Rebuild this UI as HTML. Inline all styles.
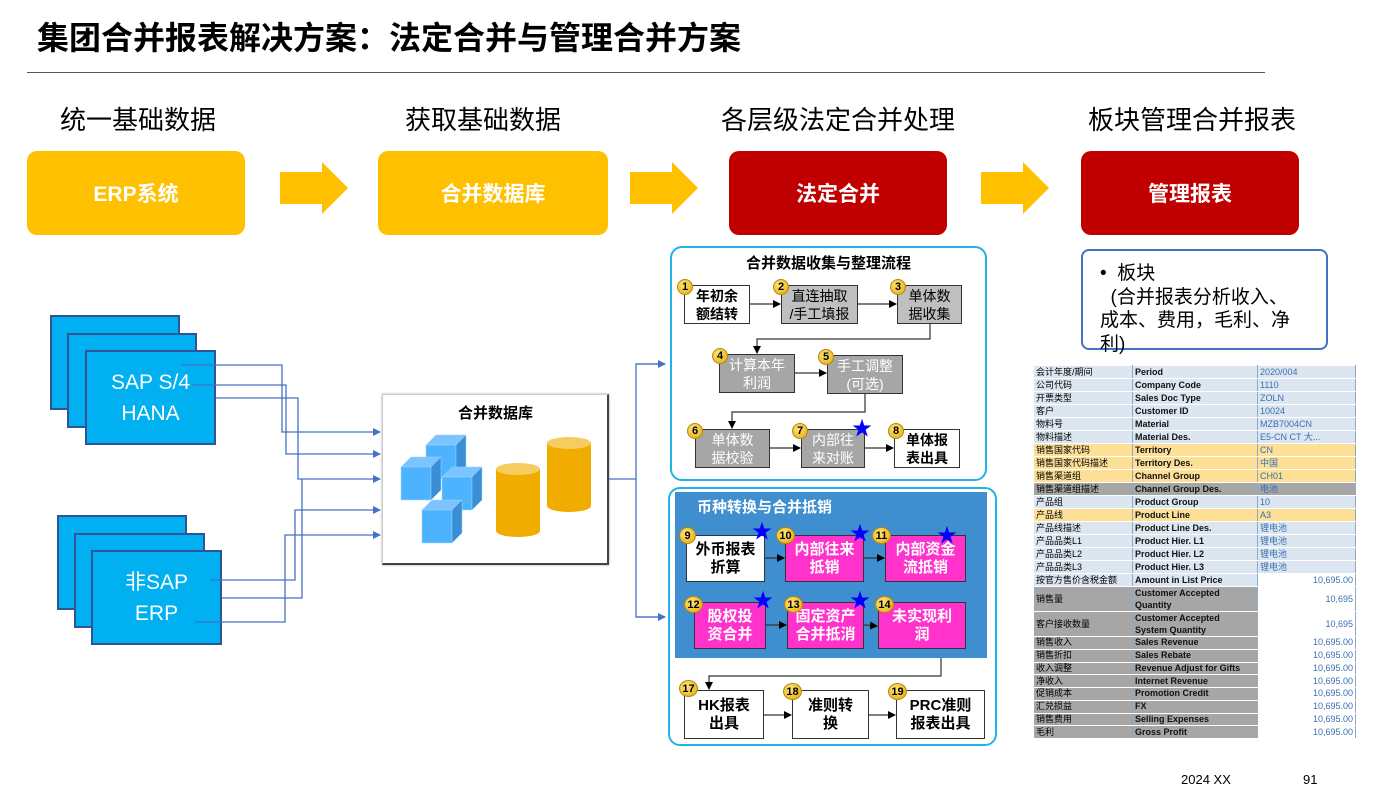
<!DOCTYPE html>
<html><head><meta charset="utf-8"><style>
*{margin:0;padding:0;box-sizing:border-box}
body{width:1398px;height:793px;background:#fff;position:relative;overflow:hidden;font-family:"Liberation Sans","Noto Sans CJK SC",sans-serif}
.a{position:absolute}
.h{font-size:26px;color:#000;text-align:center;width:300px}
.big{border-radius:10px;color:#fff;font-weight:bold;font-size:21px;display:flex;align-items:center;justify-content:center}
.st{background:#00B0F0;border:2.5px solid #2F5597;color:#fff;font-size:21px;display:flex;align-items:center;justify-content:center;text-align:center;line-height:31px}
.b{border:1.5px solid #333;display:flex;align-items:center;justify-content:center;text-align:center;font-size:14px;line-height:18px;color:#000}
.w{background:#fff;font-weight:bold}
.g1{background:#BFBFBF}
.g2{background:#A6A6A6;color:#fff}
.m{background:#FF33CC;color:#fff;font-weight:bold;font-size:15px}
.bd{position:absolute;width:16px;height:16px;border-radius:50%;background:radial-gradient(circle at 40% 35%,#FFE680,#E0A800);border:1px solid #B8860B;font-size:11px;font-weight:bold;display:flex;align-items:center;justify-content:center;color:#000}
.star{position:absolute;color:#0000FF;font-size:20px;line-height:20px}
table{border-collapse:collapse;font-size:9px}
td{border:1px solid #fff;border-right:1px solid #8EA9C1;padding:0 2px;height:13px;line-height:11px;white-space:nowrap;overflow:hidden}
td.n{font-weight:bold;color:#111}
td.v{color:#3A6FB0}
tr.s td{height:12.75px}
tr.d td{height:25px}
</style></head><body>
<div class="a" style="left:37px;top:13px;font-size:32px;font-weight:bold">集团合并报表解决方案：法定合并与管理合并方案</div>
<div class="a" style="left:27px;top:72px;width:1238px;height:1px;background:#555"></div>

<div class="a h" style="left:-12px;top:100px">统一基础数据</div>
<div class="a h" style="left:333px;top:100px">获取基础数据</div>
<div class="a h" style="left:688px;top:100px">各层级法定合并处理</div>
<div class="a h" style="left:1042px;top:100px">板块管理合并报表</div>

<div class="a big" style="left:27px;top:151px;width:218px;height:84px;background:#FFC000">ERP系统</div>
<div class="a big" style="left:378px;top:151px;width:230px;height:84px;background:#FFC000">合并数据库</div>
<div class="a big" style="left:729px;top:151px;width:218px;height:84px;background:#C00000">法定合并</div>
<div class="a big" style="left:1081px;top:151px;width:218px;height:84px;background:#C00000">管理报表</div>

<svg class="a" style="left:0;top:0" width="1398" height="793">
<g fill="#FFC000">
<polygon points="280,172 322,172 322,162 348,188 322,214 322,204 280,204"/>
<polygon points="630,172 672,172 672,162 698,188 672,214 672,204 630,204"/>
<polygon points="981,172 1023,172 1023,162 1049,188 1023,214 1023,204 981,204"/>
</g>
</svg>

<div class="a st" style="left:50px;top:315px;width:130px;height:95px"></div>
<div class="a st" style="left:67px;top:333px;width:130px;height:95px"></div>
<div class="a st" style="left:85px;top:350px;width:131px;height:95px">SAP S/4<br>HANA</div>
<div class="a st" style="left:57px;top:515px;width:130px;height:95px"></div>
<div class="a st" style="left:74px;top:533px;width:131px;height:95px"></div>
<div class="a st" style="left:91px;top:550px;width:131px;height:95px">非SAP<br>ERP</div>

<div class="a" style="left:382px;top:394px;width:227px;height:171px;background:#fff;border:1px solid #ccc;border-right:2px solid #444;border-bottom:2px solid #444;box-shadow:0 0 2px #999"></div>
<div class="a" style="left:382px;top:402px;width:227px;text-align:center;font-size:15px;font-weight:bold">合并数据库</div>
<svg class="a" style="left:0;top:0" width="1398" height="793">
<defs><marker id="ar" markerWidth="8" markerHeight="8" refX="7" refY="4" orient="auto" markerUnits="userSpaceOnUse"><path d="M0,0 L8,4 L0,8z" fill="#4472C4"/></marker>
<marker id="ak" markerWidth="8" markerHeight="8" refX="7" refY="4" orient="auto" markerUnits="userSpaceOnUse"><path d="M0,0 L8,4 L0,8z" fill="#000"/></marker></defs>
<g fill="none" stroke="#4472C4" stroke-width="1.3">
<polyline points="182,365 282,365 282,432 380,432" marker-end="url(#ar)"/>
<polyline points="192,385 286,385 286,454 380,454" marker-end="url(#ar)"/>
<polyline points="216,398 298,398 298,479 380,479" marker-end="url(#ar)"/>
<polyline points="210,580 295,580 295,510 380,510" marker-end="url(#ar)"/>
<polyline points="222,598 302,598 302,479"/>
<polyline points="195,622 285,622 285,535 380,535" marker-end="url(#ar)"/>
<polyline points="609,479 636,479"/>
<polyline points="665,364 636,364 636,617 665,617"/>
<line x1="636" y1="364" x2="665" y2="364" marker-end="url(#ar)"/>
<line x1="636" y1="617" x2="665" y2="617" marker-end="url(#ar)"/>
</g>
<g stroke="#9CD3FF" stroke-width="0.5">
<g transform="translate(426,445)"><polygon points="0,0 30,0 40,-10 10,-10" fill="#7CC4FF"/><rect x="0" y="0" width="30" height="33" fill="#4DB3FF"/><polygon points="30,0 40,-10 40,23 30,33" fill="#3A8FD4"/></g>
<g transform="translate(401,467)"><polygon points="0,0 30,0 40,-10 10,-10" fill="#7CC4FF"/><rect x="0" y="0" width="30" height="33" fill="#4DB3FF"/><polygon points="30,0 40,-10 40,23 30,33" fill="#3A8FD4"/></g>
<g transform="translate(442,477)"><polygon points="0,0 30,0 40,-10 10,-10" fill="#7CC4FF"/><rect x="0" y="0" width="30" height="33" fill="#4DB3FF"/><polygon points="30,0 40,-10 40,23 30,33" fill="#3A8FD4"/></g>
<g transform="translate(422,510)"><polygon points="0,0 30,0 40,-10 10,-10" fill="#7CC4FF"/><rect x="0" y="0" width="30" height="33" fill="#4DB3FF"/><polygon points="30,0 40,-10 40,23 30,33" fill="#3A8FD4"/></g>
</g>
<g>
<rect x="496" y="469" width="44" height="62" fill="#F0AD00"/><ellipse cx="518" cy="531" rx="22" ry="6" fill="#F0AD00"/><ellipse cx="518" cy="469" rx="22" ry="6" fill="#F6CC60"/>
<rect x="547" y="443" width="44" height="63" fill="#F0AD00"/><ellipse cx="569" cy="506" rx="22" ry="6" fill="#F0AD00"/><ellipse cx="569" cy="443" rx="22" ry="6" fill="#F6CC60"/>
</g>
</svg>

<div class="a" style="left:670px;top:246px;width:317px;height:235px;border:2.5px solid #1EB4E8;border-radius:12px"></div>
<div class="a" style="left:670px;top:252px;width:317px;text-align:center;font-size:15px;font-weight:bold">合并数据收集与整理流程</div>
<div class="a b w" style="left:684px;top:285px;width:66px;height:39px">年初余<br>额结转</div>
<div class="a b g1" style="left:781px;top:285px;width:77px;height:39px">直连抽取<br>/手工填报</div>
<div class="a b g1" style="left:897px;top:285px;width:65px;height:39px">单体数<br>据收集</div>
<div class="a b g2" style="left:719px;top:354px;width:76px;height:39px">计算本年<br>利润</div>
<div class="a b g2" style="left:827px;top:355px;width:76px;height:39px">手工调整<br>(可选)</div>
<div class="a b g2" style="left:695px;top:429px;width:75px;height:39px">单体数<br>据校验</div>
<div class="a b g2" style="left:801px;top:429px;width:64px;height:39px">内部往<br>来对账</div>
<div class="a b w" style="left:894px;top:429px;width:66px;height:39px">单体报<br>表出具</div>

<div class="a" style="left:668px;top:487px;width:329px;height:259px;border:2.5px solid #1EB4E8;border-radius:12px"></div>
<div class="a" style="left:675px;top:492px;width:312px;height:166px;background:#3F8ED0"></div>
<div class="a" style="left:697px;top:496px;font-size:15px;font-weight:bold;color:#fff">币种转换与合并抵销</div>
<div class="a b w" style="left:686px;top:535px;width:79px;height:47px;font-size:15px">外币报表<br>折算</div>
<div class="a b m" style="left:785px;top:535px;width:79px;height:47px">内部往来<br>抵销</div>
<div class="a b m" style="left:885px;top:535px;width:81px;height:47px">内部资金<br>流抵销</div>
<div class="a b m" style="left:694px;top:602px;width:72px;height:47px">股权投<br>资合并</div>
<div class="a b m" style="left:787px;top:602px;width:77px;height:47px">固定资产<br>合并抵消</div>
<div class="a b m" style="left:878px;top:602px;width:88px;height:47px">未实现利<br>润</div>
<div class="a b w" style="left:684px;top:690px;width:80px;height:49px;font-size:15px">HK报表<br>出具</div>
<div class="a b w" style="left:792px;top:690px;width:77px;height:49px;font-size:15px">准则转<br>换</div>
<div class="a b w" style="left:896px;top:690px;width:89px;height:49px;font-size:15px">PRC准则<br>报表出具</div>

<svg class="a" style="left:0;top:0" width="1398" height="793">
<g fill="none" stroke="#333" stroke-width="1.2">
<line x1="750" y1="304" x2="780" y2="304" marker-end="url(#ak)"/>
<line x1="858" y1="304" x2="896" y2="304" marker-end="url(#ak)"/>
<polyline points="930,324 930,339 757,339 757,353" marker-end="url(#ak)"/>
<line x1="795" y1="373" x2="826" y2="373" marker-end="url(#ak)"/>
<polyline points="865,394 865,412 732,412 732,428" marker-end="url(#ak)"/>
<line x1="770" y1="448" x2="800" y2="448" marker-end="url(#ak)"/>
<line x1="865" y1="448" x2="893" y2="448" marker-end="url(#ak)"/>
<line x1="765" y1="558" x2="784" y2="558" marker-end="url(#ak)"/>
<line x1="864" y1="558" x2="884" y2="558" marker-end="url(#ak)"/>
<line x1="766" y1="625" x2="786" y2="625" marker-end="url(#ak)"/>
<line x1="864" y1="625" x2="877" y2="626" marker-end="url(#ak)"/>
<polyline points="941,658 941,676 709,676 709,689" marker-end="url(#ak)"/>
<line x1="764" y1="715" x2="791" y2="715" marker-end="url(#ak)"/>
<line x1="869" y1="715" x2="895" y2="715" marker-end="url(#ak)"/>
</g></svg>

<div class="bd" style="left:677px;top:279px">1</div>
<div class="bd" style="left:773px;top:279px">2</div>
<div class="bd" style="left:890px;top:279px">3</div>
<div class="bd" style="left:712px;top:348px">4</div>
<div class="bd" style="left:818px;top:349px">5</div>
<div class="bd" style="left:687px;top:423px">6</div>
<div class="bd" style="left:792px;top:423px">7</div>
<div class="bd" style="left:888px;top:423px">8</div>
<div class="bd" style="left:679px;top:527px;width:17px;height:17px">9</div>
<div class="bd" style="left:776px;top:527px;width:19px;height:17px">10</div>
<div class="bd" style="left:872px;top:527px;width:19px;height:17px">11</div>
<div class="bd" style="left:684px;top:596px;width:19px;height:17px">12</div>
<div class="bd" style="left:784px;top:596px;width:19px;height:17px">13</div>
<div class="bd" style="left:875px;top:596px;width:19px;height:17px">14</div>
<div class="bd" style="left:679px;top:680px;width:19px;height:17px">17</div>
<div class="bd" style="left:783px;top:683px;width:19px;height:17px">18</div>
<div class="bd" style="left:888px;top:683px;width:19px;height:17px">19</div>
<div class="star" style="left:852px;top:419px">★</div>
<div class="star" style="left:752px;top:522px">★</div>
<div class="star" style="left:850px;top:524px">★</div>
<div class="star" style="left:937px;top:526px">★</div>
<div class="star" style="left:753px;top:591px">★</div>
<div class="star" style="left:850px;top:591px">★</div>

<div class="a" style="left:1081px;top:249px;width:247px;height:101px;border:2px solid #4472C4;border-radius:8px"></div>
<div class="a" style="left:1100px;top:262px;font-size:19px;line-height:23.5px;width:230px;white-space:nowrap">•&nbsp; 板块<br>&nbsp; (合并报表分析收入、<br>成本、费用，毛利、净<br>利)</div>

<table class="a" style="left:1033px;top:365px;width:322px;table-layout:fixed">
<colgroup><col style="width:99px"><col style="width:125px"><col style="width:98px"></colgroup>
<tr style="background:#DCE6F1"><td>会计年度/期间</td><td class="n">Period</td><td class="v">2020/004</td></tr>
<tr style="background:#DCE6F1"><td>公司代码</td><td class="n">Company Code</td><td class="v">1110</td></tr>
<tr style="background:#DCE6F1"><td>开票类型</td><td class="n">Sales Doc Type</td><td class="v">ZOLN</td></tr>
<tr style="background:#DCE6F1"><td>客户</td><td class="n">Customer ID</td><td class="v">10024</td></tr>
<tr style="background:#DCE6F1"><td>物料号</td><td class="n">Material</td><td class="v">MZB7004CN</td></tr>
<tr style="background:#DCE6F1"><td>物料描述</td><td class="n">Material Des.</td><td class="v">E5-CN CT 大...</td></tr>
<tr style="background:#FDDF96"><td>销售国家代码</td><td class="n">Territory</td><td class="v">CN</td></tr>
<tr style="background:#FDDF96"><td>销售国家代码描述</td><td class="n">Territory Des.</td><td class="v">中国</td></tr>
<tr style="background:#FDDF96"><td>销售渠道组</td><td class="n">Channel Group</td><td class="v">CH01</td></tr>
<tr style="background:#A6A6A6"><td>销售渠道组描述</td><td class="n">Channel Group Des.</td><td class="v">电池</td></tr>
<tr style="background:#DCE6F1"><td>产品组</td><td class="n">Product Group</td><td class="v">10</td></tr>
<tr style="background:#FDDF96"><td>产品线</td><td class="n">Product Line</td><td class="v">A3</td></tr>
<tr style="background:#DCE6F1"><td>产品线描述</td><td class="n">Product Line Des.</td><td class="v">锂电池</td></tr>
<tr style="background:#DCE6F1"><td>产品品类L1</td><td class="n">Product Hier. L1</td><td class="v">锂电池</td></tr>
<tr style="background:#DCE6F1"><td>产品品类L2</td><td class="n">Product Hier. L2</td><td class="v">锂电池</td></tr>
<tr style="background:#DCE6F1"><td>产品品类L3</td><td class="n">Product Hier. L3</td><td class="v">锂电池</td></tr>
<tr><td style="background:#DCE6F1">按官方售价含税金额</td><td class="n" style="background:#DCE6F1">Amount in List Price</td><td class="v" style="text-align:right">10,695.00</td></tr>
<tr class="d"><td style="background:#A6A6A6">销售量</td><td class="n" style="background:#A6A6A6;white-space:normal;line-height:12px">Customer Accepted Quantity</td><td class="v" style="text-align:right">10,695</td></tr>
<tr class="d"><td style="background:#A6A6A6">客户接收数量</td><td class="n" style="background:#A6A6A6;white-space:normal;line-height:12px">Customer Accepted<br>System Quantity</td><td class="v" style="text-align:right">10,695</td></tr>
<tr class="s"><td style="background:#A6A6A6">销售收入</td><td class="n" style="background:#A6A6A6">Sales Revenue</td><td class="v" style="text-align:right">10,695.00</td></tr>
<tr class="s"><td style="background:#A6A6A6">销售折扣</td><td class="n" style="background:#A6A6A6">Sales Rebate</td><td class="v" style="text-align:right">10,695.00</td></tr>
<tr class="s"><td style="background:#A6A6A6">收入调整</td><td class="n" style="background:#A6A6A6">Revenue Adjust for Gifts</td><td class="v" style="text-align:right">10,695.00</td></tr>
<tr class="s"><td style="background:#A6A6A6">净收入</td><td class="n" style="background:#A6A6A6">Internet Revenue</td><td class="v" style="text-align:right">10,695.00</td></tr>
<tr class="s"><td style="background:#A6A6A6">促销成本</td><td class="n" style="background:#A6A6A6">Promotion Credit</td><td class="v" style="text-align:right">10,695.00</td></tr>
<tr class="s"><td style="background:#A6A6A6">汇兑损益</td><td class="n" style="background:#A6A6A6">FX</td><td class="v" style="text-align:right">10,695.00</td></tr>
<tr class="s"><td style="background:#A6A6A6">销售费用</td><td class="n" style="background:#A6A6A6">Selling Expenses</td><td class="v" style="text-align:right">10,695.00</td></tr>
<tr class="s"><td style="background:#A6A6A6">毛利</td><td class="n" style="background:#A6A6A6">Gross Profit</td><td class="v" style="text-align:right">10,695.00</td></tr>
</table>

<div class="a" style="left:1181px;top:772px;font-size:13px">2024 XX</div>
<div class="a" style="left:1303px;top:772px;font-size:13px">91</div>
</body></html>
